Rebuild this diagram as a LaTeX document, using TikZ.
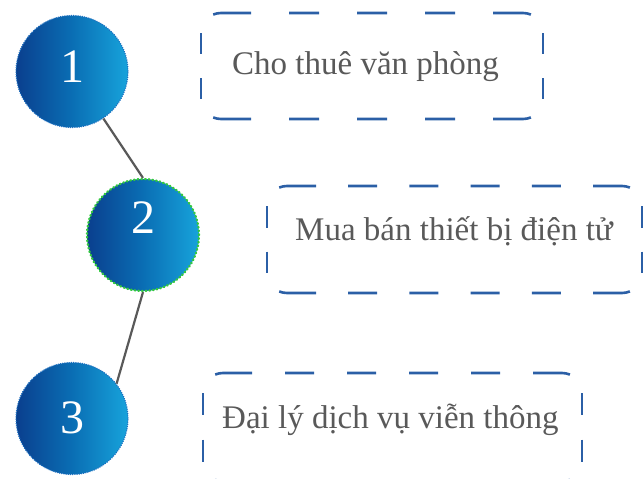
\documentclass[tikz,border=0pt]{standalone}
\usepackage{fontspec}
\setmainfont{Liberation Serif}
\definecolor{boxblue}{HTML}{2B5FA6}
\definecolor{txtgray}{HTML}{595959}
\definecolor{gleft}{HTML}{0A3F8E}
\definecolor{gmid}{HTML}{0A6EB4}
\definecolor{gright}{HTML}{17A3DB}
\definecolor{dotgreen}{HTML}{33C840}
\definecolor{edgeblue}{HTML}{1C6FC0}
\begin{document}
\begin{tikzpicture}[x=1pt,y=-1pt,
  ball/.style={circle, minimum size=112pt, inner sep=0pt, left color=gleft, right color=gright, middle color=gmid},
  blueedge/.style={draw=edgeblue, line width=1.2pt, dash pattern=on 1pt off 1.2pt},
  greenedge/.style={draw=dotgreen, line width=2.2pt, dash pattern=on 0.9pt off 2.8pt, line cap=round},
  digit/.style={text=white, font=\fontsize{48}{48}\selectfont, inner sep=0pt},
  itemtext/.style={text=txtgray, font=\fontsize{33}{40}\selectfont, inner sep=0pt, anchor=base west},
  boxarea/.style={draw=none, inner sep=0pt, outer sep=0pt},
  edgeline/.style={draw=boxblue, line width=2.6pt, rounded corners=20pt},
  link/.style={draw=txtgray, line width=2.2pt}
]
\useasboundingbox (0,0) rectangle (643,479);
% box areas
\node[boxarea, minimum width=342pt, minimum height=106pt] (b1) at (372,66) {};
\node[boxarea, minimum width=375pt, minimum height=107pt] (b2) at (454.5,239.5) {};
\node[boxarea, minimum width=379pt, minimum height=108.5pt] (b3) at (392.5,427.25) {};
% box 1 outline
\begin{scope}[edgeline, dash pattern=on 38pt off 38pt on 30pt off 38pt on 30pt off 38pt on 30pt off 38pt on 38pt off 46.8pt, dash phase=341.4pt]
\draw ([yshift=-20pt]b1.north west) -- (b1.north west) -- (b1.north east) -- ([yshift=-20pt]b1.north east);
\draw ([yshift=20pt]b1.south west) -- (b1.south west) -- (b1.south east) -- ([yshift=20pt]b1.south east);
\end{scope}
\begin{scope}[edgeline, dash pattern=on 21pt off 24pt on 21pt off 100pt]
\draw ([yshift=-20pt]b1.north west) -- ([yshift=20pt]b1.south west);
\draw ([yshift=-20pt]b1.north east) -- ([yshift=20pt]b1.south east);
\end{scope}
% box 2 outline
\begin{scope}[edgeline, dash pattern=on 37pt off 32.2pt on 29pt off 32.2pt on 29pt off 32.2pt on 29pt off 32.2pt on 29pt off 32.2pt on 37pt off 46.8pt, dash phase=374.4pt]
\draw ([yshift=-20pt]b2.north west) -- (b2.north west) -- (b2.north east) -- ([yshift=-20pt]b2.north east);
\draw ([yshift=20pt]b2.south west) -- (b2.south west) -- (b2.south east) -- ([yshift=20pt]b2.south east);
\end{scope}
\begin{scope}[edgeline, dash pattern=on 21.5pt off 24pt on 21.5pt off 100pt]
\draw ([yshift=-20pt]b2.north west) -- ([yshift=20pt]b2.south west);
\draw ([yshift=-20pt]b2.north east) -- ([yshift=20pt]b2.south east);
\end{scope}
% box 3 outline
\begin{scope}[edgeline, dash pattern=on 37pt off 33pt on 29pt off 33pt on 29pt off 33pt on 29pt off 33pt on 29pt off 33pt on 37pt off 46.8pt, dash phase=378.4pt]
\draw ([yshift=-20pt]b3.north west) -- (b3.north west) -- (b3.north east) -- ([yshift=-20pt]b3.north east);
\draw ([yshift=20pt]b3.south west) -- (b3.south west) -- (b3.south east) -- ([yshift=20pt]b3.south east);
\end{scope}
\begin{scope}[edgeline, dash pattern=on 22pt off 24.5pt on 22pt off 100pt]
\draw ([yshift=-20pt]b3.north west) -- ([yshift=20pt]b3.south west);
\draw ([yshift=-20pt]b3.north east) -- ([yshift=20pt]b3.south east);
\end{scope}
% texts
\node[itemtext] (t1) at (232,74) {Cho thuê văn phòng};
\node[itemtext] (t2) at (295,240) {Mua bán thiết bị điện tử};
\node[itemtext] (t3) at (222,428) {Đại lý dịch vụ viễn thông};
% circles
\node[ball, blueedge] (c1) at (72,71.5) {};
\node[ball, greenedge] (c2) at (143,235) {};
\node[ball, blueedge] (c3) at (72,418.5) {};
\node[digit] (d1) at (72,67) {1};
\node[digit] (d2) at (143,217.5) {2};
\node[digit] (d3) at (72,418) {3};
% connectors
\draw[link] (c1) -- (c2.north);
\draw[link] (c2.south) -- (c3.38);
\end{tikzpicture}
\end{document}
